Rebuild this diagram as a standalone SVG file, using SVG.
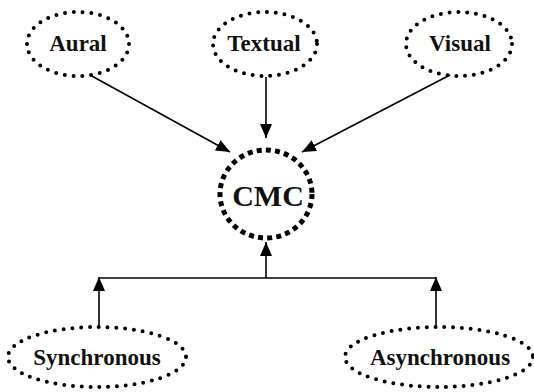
<svg xmlns="http://www.w3.org/2000/svg" width="534" height="392" viewBox="0 0 534 392">
<style>
.dot{fill:none;stroke:#000;stroke-width:4;stroke-linecap:round;stroke-dasharray:0 8.8}
.dash{fill:none;stroke:#000;stroke-width:5;stroke-dasharray:5 4.2}
.lbl{font-family:"Liberation Serif",serif;font-weight:bold;font-size:23px;text-anchor:middle;fill:#111}
.con{fill:none;stroke:#000;stroke-width:1.6}
</style>
<defs>
<marker id="ah" markerUnits="userSpaceOnUse" markerWidth="14" markerHeight="12" refX="14" refY="6" orient="auto">
<path d="M0,0 L14,6 L0,12 Z" fill="#000"/>
</marker>
</defs>
<rect width="534" height="392" fill="#fff"/>
<g id="connectors">
<line class="con" x1="90" y1="75" x2="230" y2="152" marker-end="url(#ah)"/>
<line class="con" x1="266" y1="77" x2="266" y2="138" marker-end="url(#ah)"/>
<line class="con" x1="450" y1="75" x2="302" y2="152" marker-end="url(#ah)"/>
<line class="con" x1="266" y1="278" x2="266" y2="242" marker-end="url(#ah)"/>
<polyline class="con" points="99,278 436,278"/>
<line class="con" x1="99" y1="327" x2="99" y2="277" marker-end="url(#ah)"/>
<line class="con" x1="436" y1="327" x2="436" y2="277" marker-end="url(#ah)"/>
</g>
<g id="aural">
<ellipse class="dot" cx="78" cy="44" rx="51" ry="32"/>
<text class="lbl" x="78" y="51">Aural</text>
</g>
<g id="textual">
<ellipse class="dot" cx="265" cy="44" rx="52" ry="32"/>
<text class="lbl" x="264" y="51">Textual</text>
</g>
<g id="visual">
<ellipse class="dot" cx="459" cy="44" rx="53" ry="32"/>
<text class="lbl" x="460" y="51">Visual</text>
</g>
<g id="cmc">
<ellipse class="dash" cx="266" cy="194" rx="46" ry="44"/>
<text class="lbl" x="268" y="206" style="font-size:30px">CMC</text>
</g>
<g id="synchronous">
<ellipse class="dot" cx="97" cy="357" rx="89" ry="30"/>
<text class="lbl" x="97" y="365">Synchronous</text>
</g>
<g id="asynchronous">
<ellipse class="dot" cx="439" cy="357" rx="94" ry="30"/>
<text class="lbl" x="440" y="365">Asynchronous</text>
</g>
</svg>
